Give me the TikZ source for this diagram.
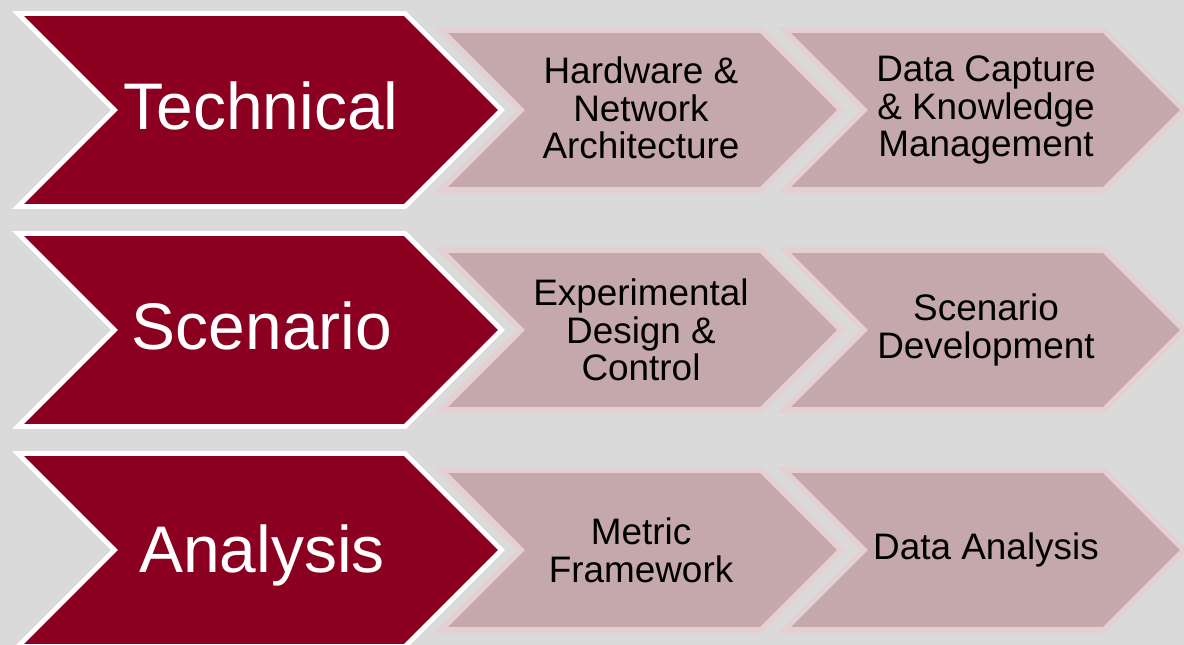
\documentclass[tikz,border=0pt]{standalone}
\usepackage{fontspec}
\setmainfont{Liberation Sans}
\usepackage{tikz}
\definecolor{backgray}{RGB}{218,218,218}
\definecolor{crimson}{RGB}{139,0,32}
\definecolor{rose}{RGB}{197,168,172}
\definecolor{roseedge}{RGB}{228,208,210}

\tikzset{
	bigchev/.style={fill=crimson,draw=white,line width=2.8pt},
	smallchev/.style={fill=rose,draw=roseedge,line width=3.2pt},
	bigtext/.style={text=white,anchor=base,font=\fontsize{37.5}{40}\selectfont},
	smalltext/.style={text=black,align=center,font=\fontsize{21}{21.5}\selectfont}
}
% style, left x, tip x, middle y, half height
\newcommand{\chevron}[5]{%
	\draw[#1] (#2,#4-#5) -- (#3-#5,#4-#5) -- (#3,#4) -- (#3-#5,#4+#5) --
	(#2,#4+#5) -- (#2+#5,#4) -- cycle;}

\begin{document}
\begin{tikzpicture}[x=0.02cm,y=-0.02cm]
	\fill[backgray] (0,0) rectangle (1184,645);
	\useasboundingbox (0,0) rectangle (1184,645);

	\foreach \Mid in {110,330,550}{
		\chevron{smallchev}{441}{841}{\Mid}{80}
		\chevron{smallchev}{784}{1184}{\Mid}{80}
		\chevron{bigchev}{18}{501.5}{\Mid}{96.5}
	}

	\node[bigtext] (technical) at (261,130) {Technical};
	\node[bigtext] (scenario) at (262,350) {Scenario};
	\node[bigtext] (analysis) at (262,572) {Analysis};

	\node[smalltext] (hardware) at (641,108) {Hardware \&\\Network\\Architecture};
	\node[smalltext] (capture) at (986,110) {Data Capture\\\& Knowledge\\Management};
	\node[smalltext] (design) at (641,330) {Experimental\\Design \&\\Control};
	\node[smalltext] (develop) at (986,330) {Scenario\\Development};
	\node[smalltext] (metric) at (641,550) {Metric\\Framework};
	\node[smalltext] (dataan) at (986,550) {Data Analysis};

\end{tikzpicture}
\end{document}
